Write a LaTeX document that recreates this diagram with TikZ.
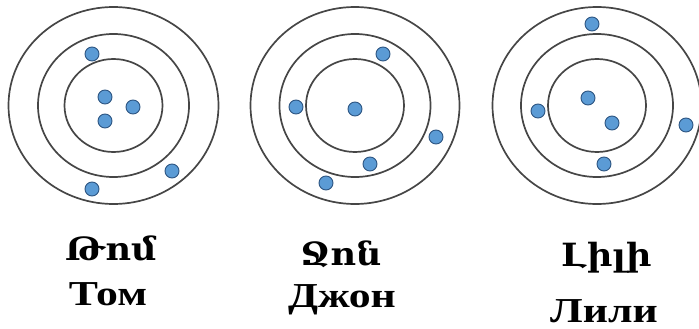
\documentclass[tikz,border=0pt]{standalone}
\usepackage{fontspec}
\newfontfamily\armfont{DejaVu Serif}[FakeStretch=1.1]
\newfontfamily\rufont{Liberation Serif}[FakeStretch=1.25]
\definecolor{dotfill}{RGB}{91,155,213}
\definecolor{dotline}{RGB}{45,85,130}
\definecolor{ringcol}{RGB}{70,70,70}
\tikzset{
  ring/.style={draw=ringcol, line width=1.7pt},
  electron/.style={circle, fill=dotfill, draw=dotline, line width=0.9pt, minimum size=14pt, inner sep=0pt},
  armlabel/.style={anchor=base, font=\armfont\bfseries\fontsize{32}{38}\selectfont},
  rulabel/.style={anchor=base, font=\rufont\bfseries\fontsize{35}{42}\selectfont}
}
\begin{document}
\begin{tikzpicture}[x=1pt,y=-1pt]
\useasboundingbox (0,0) rectangle (699,329);
% target 1
\foreach \rx/\ry in {105/98.5, 75.5/71.5, 49/46.5}
  \draw[ring] (113.5,105.5) ellipse [x radius=\rx, y radius=\ry];
% target 2
\foreach \rx/\ry in {104.5/98.5, 75.5/71.5, 49/46.5}
  \draw[ring] (355,105.5) ellipse [x radius=\rx, y radius=\ry];
% target 3
\foreach \rx/\ry in {104.5/98.5, 76/71.5, 49/46.5}
  \draw[ring] (597,105.5) ellipse [x radius=\rx, y radius=\ry];
% electrons target 1
\node[electron] (t1) at (92,54) {};
\node[electron] (t2) at (105,97) {};
\node[electron] (t3) at (133,107) {};
\node[electron] (t4) at (105,121) {};
\node[electron] (t5) at (172,171) {};
\node[electron] (t6) at (92,189) {};
% electrons target 2
\node[electron] (j1) at (383,54) {};
\node[electron] (j2) at (296,107) {};
\node[electron] (j3) at (355,109) {};
\node[electron] (j4) at (436,137) {};
\node[electron] (j5) at (370,164) {};
\node[electron] (j6) at (326,183) {};
% electrons target 3
\node[electron] (l1) at (592,24) {};
\node[electron] (l2) at (538,111) {};
\node[electron] (l3) at (588,98) {};
\node[electron] (l4) at (612,123) {};
\node[electron] (l5) at (686,125) {};
\node[electron] (l6) at (604,164) {};
% labels
\node[armlabel] (a1) at (111,260) {Թոմ};
\node[rulabel] (r1) at (108,305) {Том};
\node[armlabel] (a2) at (341,265) {Ջոն};
\node[rulabel] (r2) at (342,307) {Джон};
\node[armlabel] (a3) at (607,266) {Լիլի};
\node[rulabel] (r3) at (604,322) {Лили};
\end{tikzpicture}
\end{document}
